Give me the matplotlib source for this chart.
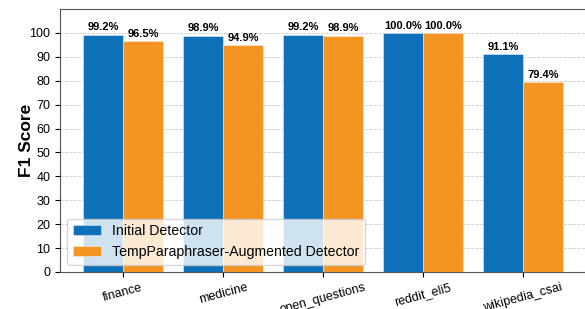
import matplotlib
matplotlib.use("Agg")
import matplotlib.pyplot as plt
import numpy as np

plt.rcParams['font.family'] = ['Liberation Sans', 'DejaVu Sans']

categories = ["finance", "medicine", "open_questions", "reddit_eli5", "wikipedia_csai"]
initial = [99.2, 98.9, 99.2, 100.0, 91.1]
augmented = [96.5, 94.9, 98.9, 100.0, 79.4]
series_names = ["Initial Detector", "TempParaphraser-Augmented Detector"]

fig = plt.figure(figsize=(5.85, 3.09), dpi=100)
ax = fig.add_axes([60/585, 37/309, 1.002 - 60/585, (272-9)/309])

x = np.arange(len(categories))
w = 0.4
b1 = ax.bar(x - w/2, initial, w, color="#0E70B8", edgecolor="#ffffff80", linewidth=0.6, label=series_names[0], zorder=3)
b2 = ax.bar(x + w/2, augmented, w, color="#F39423", edgecolor="#ffffff80", linewidth=0.6, label=series_names[1], zorder=3)

for bars, vals in ((b1, initial), (b2, augmented)):
    for r, v in zip(bars, vals):
        ax.text(r.get_x() + r.get_width()/2, v + 1.0, f"{v:.1f}%", ha="center", va="bottom",
                fontsize=8, fontweight="bold", zorder=4)

ax.set_ylim(0, 110)
ax.set_xlim(-0.63, 4.63)
ax.set_yticks(range(0, 101, 10))
ax.set_xticks(x)
ax.set_xticklabels(categories, rotation=15, fontsize=9)
ax.tick_params(axis='y', labelsize=9)
ax.set_ylabel("F1 Score", fontsize=12.5, fontweight="bold", labelpad=-3.5)
ax.yaxis.grid(True, linestyle="--", color="#cccccc", linewidth=0.6, zorder=0)
ax.set_axisbelow(True)
for s in ax.spines.values():
    s.set_color("#555555")

leg = ax.legend(loc="lower left", fontsize=10.2, framealpha=0.8, fancybox=True)

fig.savefig("out.png", dpi=100)
